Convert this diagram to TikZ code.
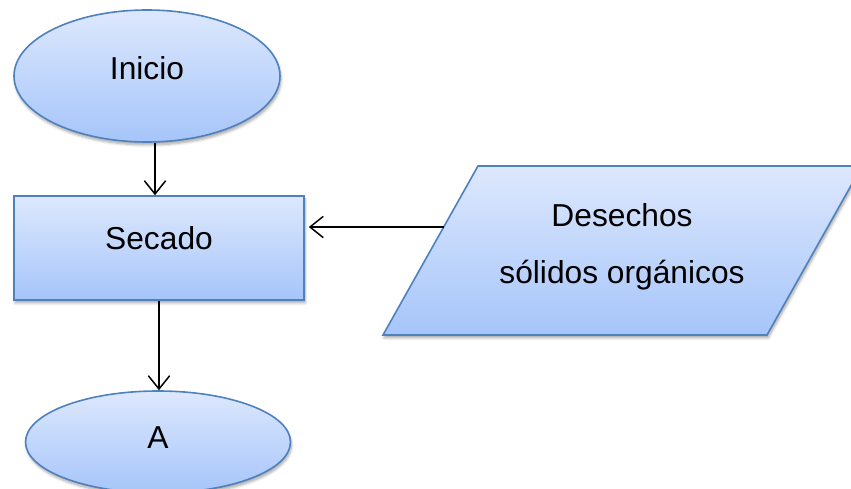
\documentclass[tikz,border=0pt]{standalone}
\usepackage{fontspec}
\setmainfont{Liberation Sans}
\usetikzlibrary{shapes.geometric,arrows.meta,shadows.blur,calc}

\definecolor{boxtop}{HTML}{DDE8FD}
\definecolor{boxbot}{HTML}{A6C5FA}
\definecolor{boxline}{HTML}{4F81BD}

\tikzset{
  base/.style={draw=boxline, line width=1.2pt, top color=boxtop, bottom color=boxbot,
    inner sep=0pt, blur shadow={shadow xshift=0.8pt, shadow yshift=-2.2pt, shadow opacity=35, shadow blur steps=6, shadow blur radius=2pt}},
  term/.style={base, ellipse},
  proc/.style={base, rectangle},
  txt/.style={font=\fontsize{23.8pt}{42.75pt}\selectfont, inner sep=0pt, align=center},
  flow/.style={line width=1.1pt, -{Straight Barb[length=10pt, width=16pt, line width=1.1pt]}}
}

\begin{document}
\begin{tikzpicture}[x=0.75pt, y=-0.75pt]
  \useasboundingbox (0,0) rectangle (851,489);

  \node[term, minimum width=266*0.75pt, minimum height=132*0.75pt,
        label={[txt, yshift=6pt]center:Inicio}] (ini) at (147,76) {};
  \node[proc, minimum width=290*0.75pt, minimum height=104*0.75pt,
        label={[txt, yshift=7.5pt]center:Secado}] (sec) at (159,248) {};
  \node[term, minimum width=265*0.75pt, minimum height=102*0.75pt,
        label={[txt, yshift=3.5pt]center:A}] (fin) at (158,442) {};

  % input parallelogram: corners, shaded body, caption
  \coordinate (dtl) at (478,166);
  \coordinate (dtr) at (862,166);
  \coordinate (dbr) at (767,335);
  \coordinate (dbl) at (383,335);
  \path[base] (dtl) -- (dtr) -- (dbr) -- (dbl) -- cycle;
  \node[txt] (des) at (622,246.5) {Desechos\\sólidos orgánicos};

  \coordinate (desin) at ($(dtl)!0.361!(dbl)$);
  \coordinate (secin) at ([xshift=3pt]sec.east |- desin);

  \draw[flow] ([xshift=8*0.75pt]ini.south) -- ([xshift=-4*0.75pt]sec.north);
  \draw[flow] (sec.south) -- (sec.south |- fin.north);
  \draw[flow] (desin) -- (secin);
\end{tikzpicture}
\end{document}
